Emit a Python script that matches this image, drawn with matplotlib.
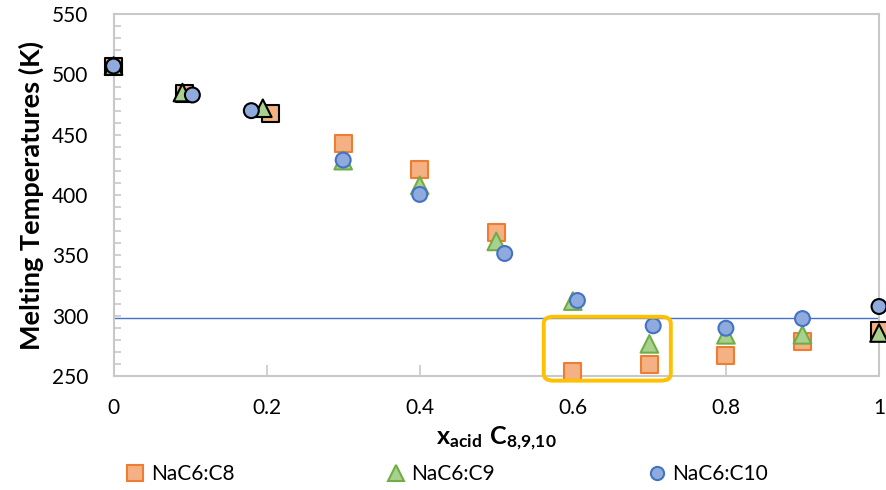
import matplotlib
matplotlib.use("Agg")
import matplotlib.pyplot as plt
from matplotlib.lines import Line2D
from matplotlib.patches import FancyBboxPatch
from matplotlib.ticker import MultipleLocator

plt.rcParams["font.family"] = ["Lato", "DejaVu Sans"]
plt.rcParams["mathtext.fontset"] = "custom"
plt.rcParams["mathtext.bf"] = "Lato:bold"
plt.rcParams["mathtext.rm"] = "Lato"

# melting temperatures (K) vs mole fraction of acid
x_c8 = [0.0, 0.093, 0.205, 0.3, 0.4, 0.5, 0.6, 0.7, 0.8, 0.9, 1.0]
t_c8 = [507, 484.5, 467.5, 443, 421, 369, 253.5, 259, 266.5, 278.5, 288]
x_c9 = [0.0, 0.09, 0.195, 0.3, 0.4, 0.5, 0.6, 0.7, 0.8, 0.9, 1.0]
t_c9 = [507, 485, 472, 428.5, 408, 361.5, 312, 276.5, 284, 284, 285.5]
x_c10 = [0.0, 0.103, 0.18, 0.3, 0.4, 0.511, 0.606, 0.705, 0.8, 0.9, 1.0]
t_c10 = [507, 483, 470, 429, 400.5, 351.5, 312.5, 291.5, 289.5, 297.5, 307.5]
room_temp = 298.15
# literature points (pure components / known compounds) get a black edge
lit_idx = [0, 1, 2, 10]

series = [
    ("NaC6:C8", x_c8, t_c8, "s", "#F4B183", "#ED7D31", 150, 11),
    ("NaC6:C9", x_c9, t_c9, "^", "#A9D18E", "#70AD47", 160, 12),
    ("NaC6:C10", x_c10, t_c10, "o", "#8FAADC", "#4472C4", 115, 9.5),
]

fig = plt.figure(figsize=(8.87, 4.9), dpi=100)
ax = fig.add_axes([0.128, 0.233, 0.863, 0.738])

ax.axhline(room_temp, color="#4472C4", lw=1.0, zorder=1)

handles = []
for label, xs, ts, mk, face, edge, size, msize in series:
    edges = ["black" if i in lit_idx else edge for i in range(len(xs))]
    ax.scatter(xs, ts, marker=mk, s=size, facecolor=face, edgecolors=edges,
               linewidths=1.5, zorder=3, clip_on=False)
    handles.append(Line2D([], [], ls="none", marker=mk, markersize=msize,
                          markerfacecolor=face, markeredgecolor=edge,
                          markeredgewidth=1.5, label=label))

box = FancyBboxPatch((0.562, 246), 0.166, 53,
                     boxstyle="round,pad=0,rounding_size=0.013",
                     mutation_aspect=1 / 0.0024,
                     fill=False, edgecolor="#FFC000", lw=2.8, zorder=4, clip_on=False)
ax.add_patch(box)

ax.set_xlim(0, 1)
ax.set_ylim(250, 550)
ax.yaxis.set_major_locator(MultipleLocator(50))
ax.yaxis.set_minor_locator(MultipleLocator(10))
ax.set_xticks([0, 0.2, 0.4, 0.6, 0.8, 1.0])
ax.set_xticklabels(["0", "0.2", "0.4", "0.6", "0.8", "1"])
ax.tick_params(axis="both", which="both", labelsize=15, colors="#C8C8C8", labelcolor="black")
ax.tick_params(axis="x", direction="in", length=8, width=1.2, pad=16)
ax.tick_params(axis="y", which="both", direction="in", length=5, width=1.2, pad=18)
for sp in ax.spines.values():
    sp.set_color("#C8C8C8")
    sp.set_linewidth(1.5)

ax.set_ylabel("Melting Temperatures (K)", fontsize=19.5, fontweight="bold", labelpad=6)
ax.set_xlabel(r"$\mathbf{x_{acid}\ C_{8{,}9{,}10}}$", fontsize=18, labelpad=5)

fig.legend(handles=handles, loc="center left", bbox_to_anchor=(125 / 887, 1 - 474 / 490),
           ncol=3, frameon=False, fontsize=15, columnspacing=7.25, handlelength=1.0,
           handletextpad=0.25, borderpad=0, borderaxespad=0)

fig.savefig("out.png", dpi=100)
